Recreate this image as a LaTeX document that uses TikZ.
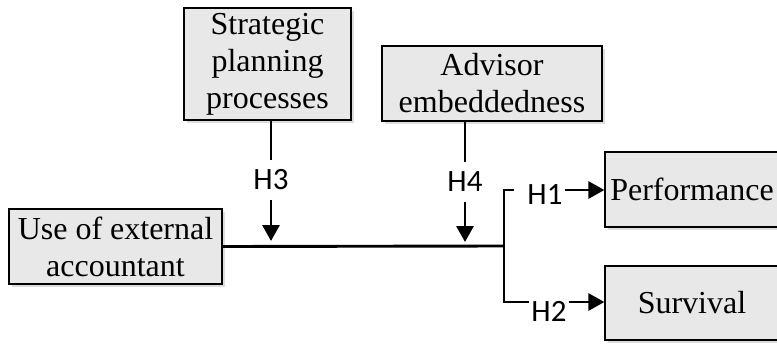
\documentclass[tikz,border=0pt]{standalone}
\usepackage{fontspec}
\setmainfont{Liberation Serif}
\newfontfamily\hypfont{Carlito}
\usetikzlibrary{arrows.meta,shadows}

\begin{document}
\begin{tikzpicture}[x=1pt,y=-1pt,
  box/.style={draw,fill=gray!18,line width=1.2pt,inner sep=0pt,align=center,
    font=\fontsize{32}{37}\selectfont,
    drop shadow={shadow xshift=3pt,shadow yshift=-3pt,fill=gray!45,opacity=0.6}},
  hyp/.style={font=\hypfont\fontsize{31}{31}\selectfont,inner xsep=2pt,inner ysep=10pt},
  link/.style={line width=2.9pt},
  arr/.style={link,-{Triangle[length=16pt,width=17pt]}}]
\clip (0,0) rectangle (777,343);
\node (plan) at (267.5,64) [box,minimum width=167pt,minimum height=112pt] {Strategic\\planning\\processes};
\node (adv) at (492,83.5) [box,minimum width=220pt,minimum height=75pt] {Advisor\\embeddedness};
\node (use) at (115.5,246.5) [box,minimum width=213pt,minimum height=75pt] {Use of external\\accountant};
\node (perf) at (692,189.5) [box,minimum width=174pt,minimum height=75pt] {Performance};
\node (surv) at (692,303) [box,minimum width=174pt,minimum height=74pt] {Survival};
\node (h3) at (271,180) [hyp] {H3};
\node (h4) at (465,182) [hyp] {H4};
\node (h1) at (545,195) [hyp] {H1};
\node (h2) at (549,311) [hyp] {H2};
\coordinate (t3) at (271,241);
\coordinate (t4) at (465,242);
\coordinate (j) at (504,246);
\coordinate (jt) at (504,190);
\coordinate (jb) at (504,302);
\draw[link] (h3 |- plan.south) -- (h3.north);
\draw[arr] (h3.south) -- (t3);
\draw[link] (h4 |- adv.south) -- (h4.north);
\draw[arr] (h4.south) -- (t4);
\draw[link] (use.east) -- (j);
\draw[link] ([xshift=-11pt]h1.west |- jt) -- (jt) -- (jb) -- (h2.west |- jb);
\draw[arr] (h1.east |- jt) -- (perf.west |- jt);
\draw[arr] (h2.east |- jb) -- (surv.west |- jb);
\end{tikzpicture}
\end{document}
